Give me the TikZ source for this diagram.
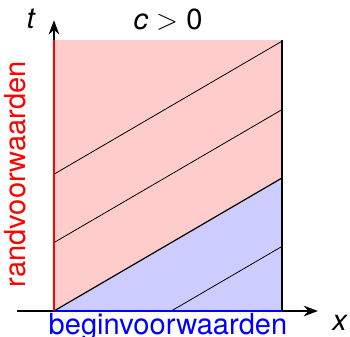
\documentclass[tikz,border=0pt]{standalone}
\usepackage{fontspec}
\setmainfont{TeX Gyre Heros}
\usetikzlibrary{arrows.meta}
\tikzset{
    karakteristiek/.style={
        lbl/.style={font=\fontsize{14.5}{17}\selectfont, inner sep=0pt},
        axis/.style={-{Stealth[length=2.5mm]}, semithick},
        kar/.style={thin},
    },
}

\begin{document}
\begin{tikzpicture}[karakteristiek]
            \useasboundingbox (-0.947,-0.439) rectangle (5.193,5.456);

            \coordinate (O)  at (0,0);
            \coordinate (R)  at (4,0);
            \coordinate (RT) at (4,4.75);
            \coordinate (LT) at (0,4.75);
            \coordinate (D)  at (4,2.333);
            \coordinate (xs) at (-0.65,0);
            \coordinate (xe) at (4.63,0);
            \coordinate (te) at (0,5.1);

            % gebieden
            \fill[red!20]  (O) -- (D) -- (RT) -- (LT) -- cycle;
            \fill[blue!20] (O) -- (R) -- (D) -- cycle;

            % karakteristieken
            \coordinate (a1) at (0,1.2);    \coordinate (b1) at (4,3.533);
            \coordinate (a2) at (0,2.4);    \coordinate (b2) at (4,4.733);
            \coordinate (a3) at (2.057,0);  \coordinate (b3) at (4,1.133);
            \draw[kar] (a1) -- (b1);
            \draw[kar] (a2) -- (b2);
            \draw[kar] (a3) -- (b3);
            \draw[semithick] (O) -- (D);

            % assen
            \draw[axis] (xs) -- (xe);
            \draw[axis] (O) -- (te);
            \draw[semithick] (R) -- (RT);
            \draw[red, very thick]  (O) -- (LT);
            \draw[blue, very thick] (O) -- (R);

            \node[lbl] (t) at (-0.4,5.12) {\textit{t}};
            \node[lbl] (x) at (5.02,-0.2) {\textit{x}};
            \node[lbl] (c) at (2.0,5.12) {\textit{c} $>$ 0};
            \node[lbl, blue, anchor=north] (bv) at (2.0,-0.03) {beginvoorwaarden};
            \node[lbl, red, rotate=90] (rv) at (-0.68,2.4) {randvoorwaarden};
        \end{tikzpicture}
\end{document}
